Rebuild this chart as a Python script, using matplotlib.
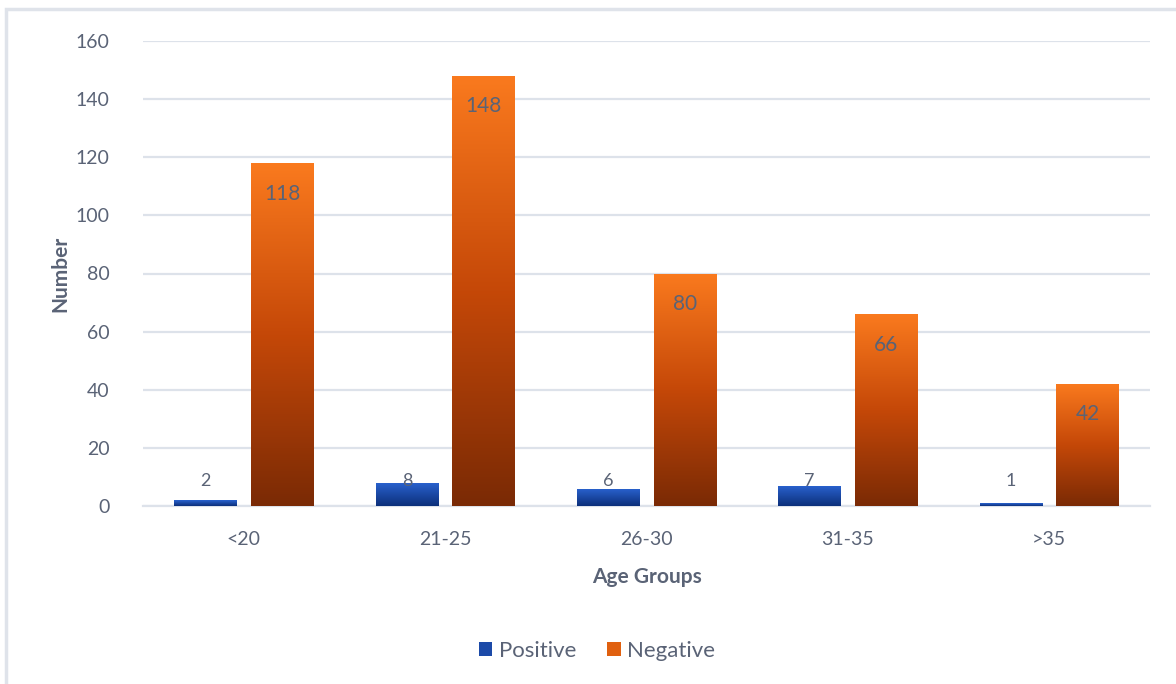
import matplotlib
matplotlib.use("Agg")
import matplotlib.pyplot as plt
from matplotlib.colors import LinearSegmentedColormap
from matplotlib.patches import Rectangle
import numpy as np

# data
age_groups = ['<20', '21-25', '26-30', '31-35', '>35']
positive = [2, 8, 6, 7, 1]
negative = [118, 148, 80, 66, 42]

text_color = '#5a6376'
grid_color = '#dde2ea'
plt.rcParams['font.family'] = ['Lato', 'DejaVu Sans']

blue_cmap = LinearSegmentedColormap.from_list('blue', ['#0c2f7a', '#2a63d0'])
orange_cmap = LinearSegmentedColormap.from_list('orange', ['#7a2a05', '#c54808', '#fa7a1e'])

fig = plt.figure(figsize=(11.76, 6.84), dpi=100)
ax = fig.add_axes([143 / 1176, (684 - 506) / 684, 1007 / 1176, 465 / 684])

# light frame around the chart
fig.patches.append(Rectangle((6 / 1176, -0.05), 1.2, (684 - 9) / 684 + 0.05,
                             transform=fig.transFigure, fill=False,
                             edgecolor='#dfe3ea', linewidth=2.5, zorder=0))

x = np.arange(len(age_groups))
width = 0.31
offset = 0.19

grad = np.linspace(0, 1, 256).reshape(-1, 1)


def gradient_bars(xs, vals, cmap, label):
    bars = ax.bar(xs, vals, width, color=cmap(0.5), label=label, zorder=3)
    for b in bars:
        b.set_facecolor('none')
        bx, by = b.get_x(), b.get_y()
        im = ax.imshow(grad, cmap=cmap, aspect='auto', origin='lower',
                       extent=[bx, bx + b.get_width(), by, by + b.get_height()],
                       zorder=3)
        im.set_clip_path(b)
    return bars


pos_bars = gradient_bars(x - offset, positive, blue_cmap, 'Positive')
neg_bars = gradient_bars(x + offset, negative, orange_cmap, 'Negative')

for xi, v in zip(x - offset, positive):
    ax.text(xi, 8.6, str(v), ha='center', va='center', fontsize=13,
            color=text_color, zorder=5)
for xi, v in zip(x + offset, negative):
    ax.annotate(str(v), (xi, v), xytext=(0, -22), textcoords='offset points',
                ha='center', va='center', fontsize=15, color=text_color, zorder=5)

ax.set_xlim(-0.5, len(age_groups) - 0.5)
ax.set_ylim(0, 160)
ax.set_yticks(range(0, 161, 20))
ax.set_xticks(x)
ax.set_xticklabels(age_groups)
ax.yaxis.grid(True, color=grid_color, linewidth=1.6, zorder=0)
ax.set_axisbelow(True)
for s in ['top', 'right', 'left']:
    ax.spines[s].set_visible(False)
ax.spines['bottom'].set_color(grid_color)
ax.spines['bottom'].set_linewidth(1.6)
ax.tick_params(axis='both', length=0, labelsize=14, colors=text_color)
ax.tick_params(axis='x', pad=18)
ax.tick_params(axis='y', pad=24)

ax.set_xlabel('Age Groups', fontsize=15, fontweight='bold', color=text_color, labelpad=14)
ax.set_ylabel('Number', fontsize=15, fontweight='bold', color=text_color, labelpad=4)

leg = fig.legend(handles=[pos_bars, neg_bars], labels=['Positive', 'Negative'],
                 loc='center', bbox_to_anchor=(597 / 1176, (684 - 651) / 684),
                 ncol=2, frameon=False, fontsize=16, handlelength=0.6,
                 handleheight=0.6, handletextpad=0.3, columnspacing=1.4)
leg.legend_handles[0].set_facecolor('#1c4aa8')
leg.legend_handles[1].set_facecolor('#e0600f')
for t in leg.get_texts():
    t.set_color(text_color)

fig.savefig('out.png', dpi=100, facecolor='white')
